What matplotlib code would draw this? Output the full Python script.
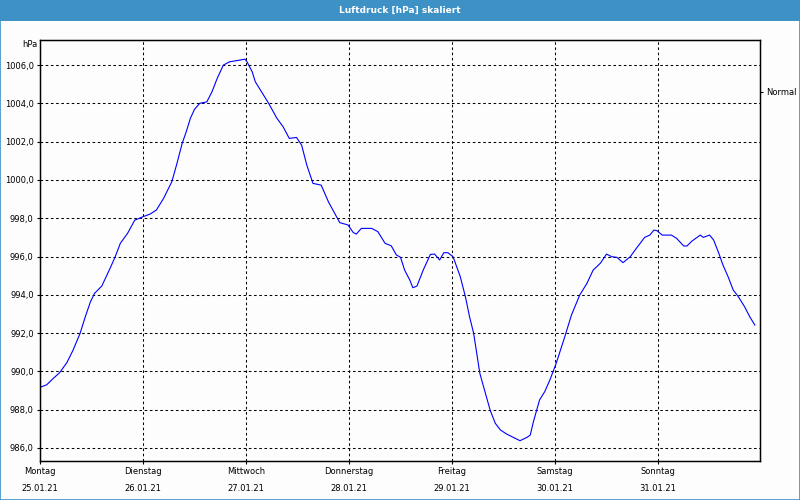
import matplotlib

matplotlib.use("Agg")
import matplotlib.pyplot as plt
from matplotlib.patches import Rectangle
from matplotlib.ticker import FuncFormatter

# time in days since Montag 25.01.21 00:00, pressure in hPa
days = [
    0.00, 0.065, 0.13, 0.19, 0.26, 0.32, 0.39, 0.44, 0.49, 0.53, 0.60, 0.68, 0.73, 0.78, 0.85, 0.92,
    1.00, 1.07, 1.13, 1.20, 1.28, 1.33, 1.38, 1.42, 1.46, 1.50, 1.55, 1.62, 1.67, 1.72, 1.78, 1.84, 1.94, 1.99,
    2.01, 2.06, 2.09, 2.15, 2.22, 2.30, 2.36, 2.42, 2.49, 2.54, 2.59, 2.65, 2.73, 2.80, 2.91, 2.99,
    3.04, 3.07, 3.12, 3.22, 3.28, 3.35, 3.41, 3.46, 3.50, 3.54, 3.59, 3.62, 3.66, 3.72, 3.79, 3.83, 3.88, 3.92, 3.96,
    4.01, 4.08, 4.13, 4.17, 4.21, 4.24, 4.27, 4.32, 4.37, 4.42, 4.47, 4.53, 4.60, 4.66, 4.73, 4.76, 4.79, 4.85, 4.90, 4.95,
    5.01, 5.09, 5.16, 5.24, 5.31, 5.37, 5.44, 5.50, 5.55, 5.60, 5.66, 5.73, 5.79, 5.87, 5.92, 5.96, 5.99,
    6.04, 6.13, 6.18, 6.25, 6.28, 6.33, 6.41, 6.44, 6.50, 6.54, 6.59, 6.63, 6.68, 6.73, 6.78, 6.84, 6.89, 6.94,
]
pressure = [
    989.17, 989.30, 989.64, 989.93, 990.45, 991.10, 992.00, 992.86, 993.64, 994.08, 994.46, 995.38, 995.99, 996.69, 997.21, 997.90,
    998.08, 998.22, 998.43, 999.04, 999.91, 1000.87, 1001.91, 1002.52, 1003.22, 1003.69, 1004.00, 1004.08, 1004.61, 1005.30, 1006.00, 1006.17, 1006.26, 1006.31,
    1006.17, 1005.65, 1005.13, 1004.61, 1004.00, 1003.22, 1002.78, 1002.17, 1002.22, 1001.82, 1000.78, 999.82, 999.73, 998.86, 997.77, 997.65,
    997.26, 997.17, 997.47, 997.47, 997.30, 996.69, 996.56, 996.08, 995.96, 995.29, 994.77, 994.37, 994.46, 995.29, 996.11, 996.13, 995.82, 996.20, 996.20,
    995.99, 994.95, 993.90, 992.86, 991.99, 990.95, 989.90, 988.94, 987.98, 987.29, 986.94, 986.73, 986.54, 986.38, 986.56, 986.68, 987.37, 988.51, 988.94, 989.55,
    990.40, 991.73, 992.95, 993.99, 994.60, 995.29, 995.65, 996.13, 995.99, 995.96, 995.68, 995.99, 996.43, 997.00, 997.12, 997.38, 997.35,
    997.12, 997.12, 996.95, 996.55, 996.55, 996.81, 997.12, 997.00, 997.12, 996.86, 996.17, 995.56, 994.95, 994.25, 993.90, 993.38, 992.86, 992.42,
]

day_names = ["Montag", "Dienstag", "Mittwoch", "Donnerstag", "Freitag", "Samstag", "Sonntag"]
dates = ["25.01.21", "26.01.21", "27.01.21", "28.01.21", "29.01.21", "30.01.21", "31.01.21"]
y_ticks = [986, 988, 990, 992, 994, 996, 998, 1000, 1002, 1004, 1006]
normal_level = 1004.6

TITLE = "Luftdruck [hPa] skaliert"
BAR_BLUE = "#3d91c4"
BG = "#fcfdfc"

fig = plt.figure(figsize=(8, 5), dpi=100, facecolor=BG)
ax = fig.add_axes([0.05, 0.078, 0.90, 0.842])
ax.set_facecolor(BG)

# title bar and window frame
fig.patches.append(Rectangle((0, 0.958), 1, 0.042, transform=fig.transFigure, facecolor=BAR_BLUE, edgecolor="none", zorder=0))
fig.patches.append(Rectangle((0.0006, 0.001), 0.9988, 0.96, transform=fig.transFigure, facecolor="none", edgecolor=BAR_BLUE, linewidth=1.2, zorder=0))
fig.text(0.5, 0.979, TITLE, color="white", fontsize=6.5, fontweight="bold", ha="center", va="center")

ax.plot(days, pressure, color="#0000ff", linewidth=0.8)

ax.set_xlim(0, 6.99)
ax.set_ylim(985.32, 1007.31)

ax.set_xticks(range(len(day_names)))
ax.set_xticklabels([f"{d}\n{dt}" for d, dt in zip(day_names, dates)], linespacing=2.1)
ax.set_yticks(y_ticks)
ax.yaxis.set_major_formatter(FuncFormatter(lambda v, _: f"{v:.1f}".replace(".", ",")))

ax.grid(True, color="black", linestyle=(0, (2.5, 2.5)), linewidth=0.75)
ax.tick_params(axis="both", labelsize=6, length=2.5, width=0.8, pad=2, colors="black")
for spine in ax.spines.values():
    spine.set_linewidth(1.0)

# "Normal" marker on the right side
ax_r = ax.twinx()
ax_r.set_ylim(ax.get_ylim())
ax_r.set_yticks([normal_level])
ax_r.set_yticklabels(["Normal"])
ax_r.tick_params(axis="y", labelsize=6, length=2.5, width=0.8, pad=2)

ax.text(-0.004, 1.0, "hPa", transform=ax.transAxes, fontsize=6, ha="right", va="top")

fig.savefig("out.png", dpi=100, facecolor=BG)
